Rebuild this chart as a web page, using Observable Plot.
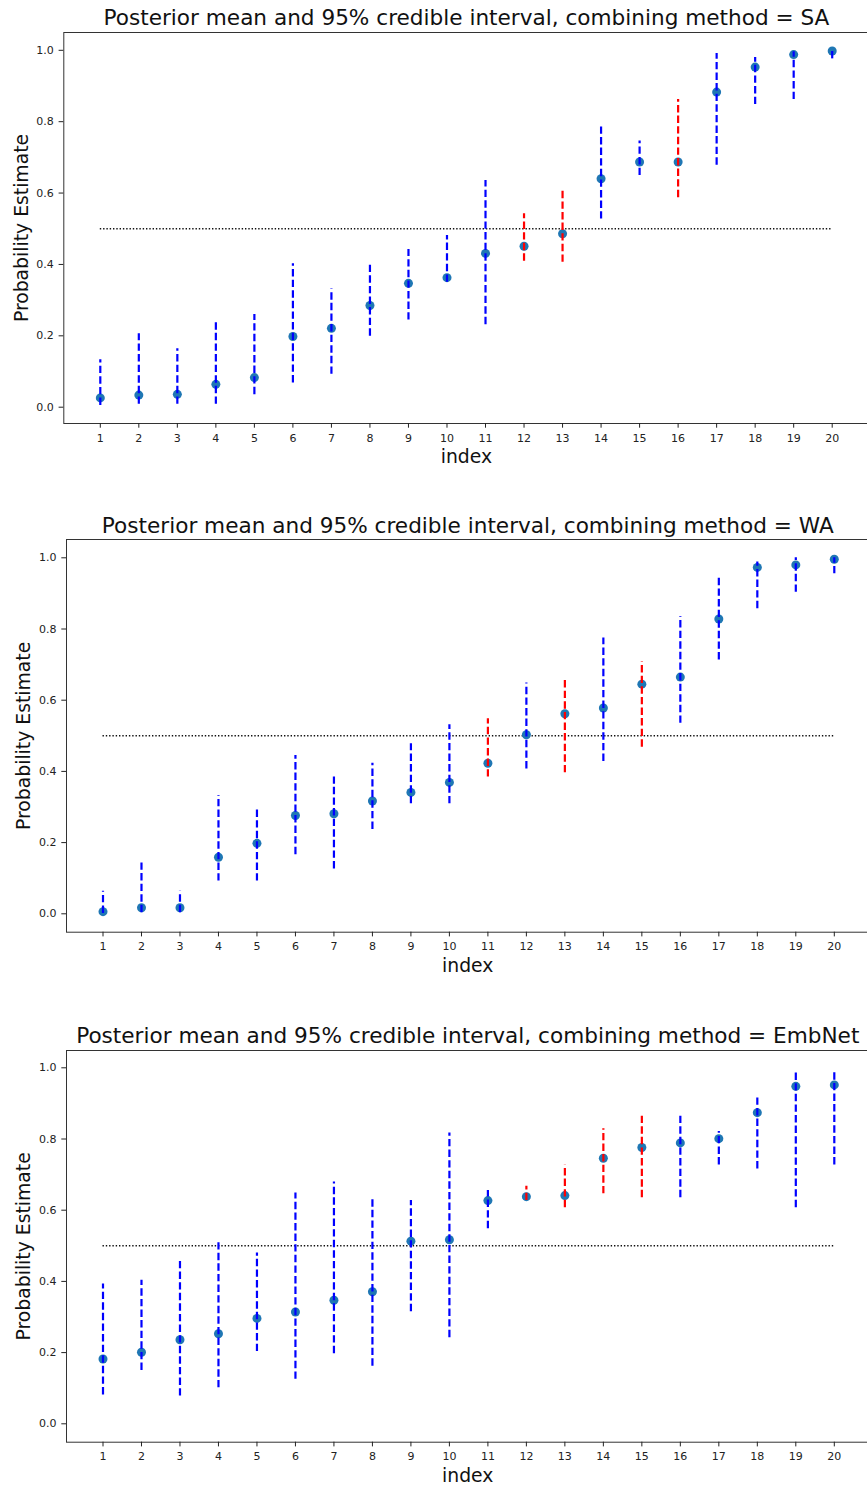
<!DOCTYPE html>
<html>
<head>
<meta charset="utf-8">
<script src="https://cdn.jsdelivr.net/npm/d3@7"></script>
<script src="https://cdn.jsdelivr.net/npm/@observablehq/plot@0.6"></script>
<style>
  html, body { margin: 0; padding: 0; background: #fff; overflow: hidden; }
  #charts svg { display: block; max-width: none; }
</style>
</head>
<body>
<div id="charts"></div>
<script>
// Item index shared by all three panels
const indices = d3.range(1, 21);
const yTicks = [0, 0.2, 0.4, 0.6, 0.8, 1.0];

// Combining method = SA
const saMean  = [0.026, 0.034, 0.036, 0.064, 0.083, 0.198, 0.221, 0.285, 0.347, 0.363, 0.431, 0.451, 0.486, 0.640, 0.687, 0.687, 0.883, 0.953, 0.988, 0.998];
const saLower = [0.005, 0.008, 0.008, 0.008, 0.035, 0.068, 0.092, 0.199, 0.244, 0.350, 0.231, 0.409, 0.406, 0.527, 0.649, 0.587, 0.678, 0.848, 0.862, 0.976];
const saUpper = [0.133, 0.206, 0.164, 0.241, 0.260, 0.402, 0.331, 0.404, 0.442, 0.481, 0.635, 0.542, 0.609, 0.787, 0.746, 0.862, 0.991, 0.980, 0.996, 1.000];
const saFlagged = [12, 13, 16];

// Combining method = WA
const waMean  = [0.006, 0.017, 0.017, 0.159, 0.198, 0.276, 0.281, 0.317, 0.341, 0.369, 0.423, 0.503, 0.562, 0.578, 0.645, 0.665, 0.828, 0.973, 0.980, 0.996];
const waLower = [0.001, 0.003, 0.003, 0.092, 0.092, 0.166, 0.126, 0.237, 0.309, 0.309, 0.384, 0.407, 0.396, 0.428, 0.468, 0.535, 0.713, 0.857, 0.903, 0.955];
const waUpper = [0.063, 0.145, 0.063, 0.332, 0.298, 0.445, 0.384, 0.423, 0.478, 0.531, 0.548, 0.648, 0.655, 0.775, 0.707, 0.835, 0.950, 0.988, 1.000, 1.000];
const waFlagged = [11, 13, 15];

// Combining method = EmbNet
const enMean  = [0.182, 0.201, 0.236, 0.253, 0.296, 0.314, 0.347, 0.371, 0.513, 0.517, 0.627, 0.638, 0.641, 0.746, 0.776, 0.789, 0.801, 0.874, 0.948, 0.952];
const enLower = [0.081, 0.150, 0.078, 0.101, 0.203, 0.125, 0.197, 0.162, 0.315, 0.242, 0.548, 0.627, 0.607, 0.646, 0.635, 0.635, 0.727, 0.716, 0.607, 0.727];
const enUpper = [0.393, 0.403, 0.462, 0.515, 0.480, 0.648, 0.679, 0.632, 0.627, 0.817, 0.655, 0.667, 0.727, 0.829, 0.871, 0.871, 0.821, 0.916, 0.990, 0.994];
const enFlagged = [12, 13, 14, 15];

function rows(mean, lower, upper, flagged) {
  return indices.map((i, k) => ({
    index: i, mean: mean[k], lower: lower[k], upper: upper[k], flagged: flagged.includes(i)
  }));
}

const panels = [
  {method: "SA", data: rows(saMean, saLower, saUpper, saFlagged),
   height: 495, top: 32, bottom: 423, y0: 406.7, y1: 49.8, left: 63.3, x1: 99.8, x20: 831.7, titleDy: -7.7, ylabDx: -41.5},
  {method: "WA", data: rows(waMean, waLower, waUpper, waFlagged),
   height: 510, top: 44, bottom: 436.7, y0: 418.3, y1: 62.3, left: 66, x1: 102.5, x20: 833.8, titleDy: -6.7, ylabDx: -42.7},
  {method: "EmbNet", data: rows(enMean, enLower, enUpper, enFlagged),
   height: 481, top: 45, bottom: 436.7, y0: 418.3, y1: 62.3, left: 66, x1: 102.5, x20: 833.8, titleDy: -7.7, ylabDx: -42.7}
];

const font = "'DejaVu Sans', sans-serif";
const dash = "7.4,3.2";

function panel(p) {
  return Plot.plot({
    width: 867,
    height: p.height,
    marginTop: p.top,
    marginBottom: p.height - p.bottom,
    marginLeft: p.left,
    marginRight: -1.5,
    x: {domain: [1, 20], range: [p.x1, p.x20]},
    y: {domain: [0, 1], range: [p.y0, p.y1]},
    style: {fontFamily: font, fontSize: "11px", color: "#222", background: "white"},
    marks: [
      Plot.frame({stroke: "#333", strokeWidth: 1}),
      Plot.axisX({ticks: indices, tickFormat: d => String(d), tickSize: 4.7, tickPadding: 5.5, label: null, fontSize: 11}),
      Plot.axisY({ticks: yTicks, tickFormat: d3.format(".1f"), tickSize: 4.7, tickPadding: 5.3, label: null, fontSize: 11}),
      // decision threshold
      Plot.ruleY([0.5], {x1: 1, x2: 20, stroke: "#111", strokeWidth: 1.4, strokeDasharray: "1.4,1.9"}),
      // posterior means
      Plot.dot(p.data, {x: "index", y: "mean", r: 4.5, fill: "#1f77b4", stroke: "none"}),
      // 95% credible intervals
      Plot.ruleX(p.data, {filter: d => !d.flagged, x: "index", y1: "lower", y2: "upper", stroke: "#0000ff", strokeWidth: 2.2, strokeDasharray: dash}),
      Plot.ruleX(p.data, {filter: d => d.flagged, x: "index", y1: "lower", y2: "upper", stroke: "#ff0000", strokeWidth: 2.2, strokeDasharray: dash}),
      // titles and axis labels
      Plot.text([`Posterior mean and 95% credible interval, combining method = ${p.method}`],
        {frameAnchor: "top", lineAnchor: "bottom", dy: p.titleDy, fontSize: 21.6, fill: "#111"}),
      Plot.text(["index"], {frameAnchor: "bottom", lineAnchor: "bottom", dy: 39.3, fontSize: 18.8, fill: "#111"}),
      Plot.text(["Probability Estimate"], {frameAnchor: "left", textAnchor: "middle", rotate: -90, dx: p.ylabDx, fontSize: 18.8, fill: "#111"})
    ]
  });
}

const root = document.getElementById("charts");
for (const p of panels) root.appendChild(panel(p));
</script>
</body>
</html>
